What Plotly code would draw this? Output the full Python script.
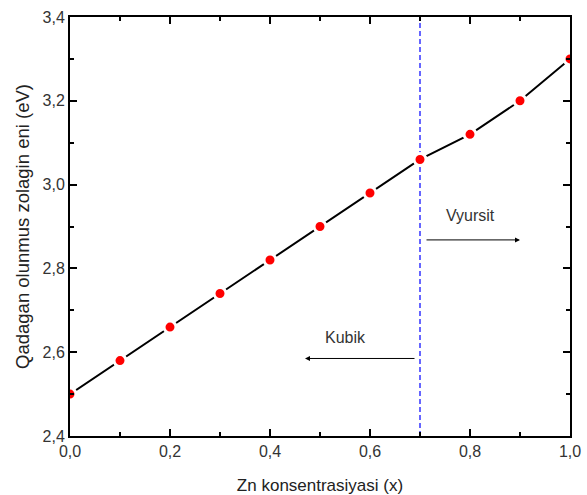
import plotly.graph_objects as go

x_vals = [0.0, 0.1, 0.2, 0.3, 0.4, 0.5, 0.6, 0.7, 0.8, 0.9, 1.0]
y_vals = [2.50, 2.58, 2.66, 2.74, 2.82, 2.90, 2.98, 3.06, 3.12, 3.20, 3.30]
x_tick_vals = [0.0, 0.2, 0.4, 0.6, 0.8, 1.0]
y_tick_vals = [2.4, 2.6, 2.8, 3.0, 3.2, 3.4]
boundary_x = 0.7

fig = go.Figure()
fig.add_shape(type="line", x0=boundary_x, x1=boundary_x, y0=2.4, y1=3.4,
              xref="x", yref="y", layer="below",
              line=dict(color="blue", width=1.2, dash="5px,3px"))

fig.add_trace(go.Scatter(
    x=x_vals, y=y_vals, mode="lines+markers",
    line=dict(color="black", width=2),
    marker=dict(color="red", size=12, line=dict(color="white", width=3)),
    showlegend=False,
))

font_ann = dict(family="Liberation Sans, Arial", size=16, color="#333333")
fig.add_annotation(x=0.90, y=2.868, ax=0.71, ay=2.868, xref="x", yref="y",
                   axref="x", ayref="y", showarrow=True, arrowhead=2,
                   arrowsize=1, arrowwidth=1, arrowcolor="black", text="")
fig.add_annotation(x=0.47, y=2.585, ax=0.692, ay=2.585, xref="x", yref="y",
                   axref="x", ayref="y", showarrow=True, arrowhead=2,
                   arrowsize=1, arrowwidth=1, arrowcolor="black", text="")
fig.add_annotation(x=0.80, y=2.927, text="Vyursit", showarrow=False, font=font_ann)
fig.add_annotation(x=0.55, y=2.636, text="Kubik", showarrow=False, font=font_ann)

axis_common = dict(
    showline=True, linecolor="black", linewidth=2, mirror="allticks",
    ticks="inside", ticklen=7, tickwidth=2, tickcolor="black",
    showgrid=False, zeroline=False, automargin=False,
    tickfont=dict(family="Liberation Sans, Arial", size=16, color="#333333"),
    tickformat=".1f",
    minor=dict(ticks="inside", ticklen=4, tickwidth=2, tickcolor="black", showgrid=False),
)

fig.update_xaxes(range=[0, 1], tickvals=x_tick_vals, minor_dtick=0.1,
                 title=dict(text="Zn konsentrasiyasi (x)", standoff=22,
                            font=dict(family="Liberation Sans, Arial", size=17, color="#222222")),
                 **axis_common)
fig.update_yaxes(range=[2.4, 3.4], tickvals=y_tick_vals, minor_dtick=0.1,
                 title=dict(text="Qadagan olunmus zolagin eni (eV)", standoff=8,
                            font=dict(family="Liberation Sans, Arial", size=18.5, color="#222222")),
                 **axis_common)

fig.update_layout(
    width=587, height=495, separators=",.",
    margin=dict(l=69.5, r=17, t=17, b=58.5),
    plot_bgcolor="white", paper_bgcolor="white",
)
fig.write_html("out.html", config={"displayModeBar": False},
               post_script="document.body.style.margin='0';document.body.style.overflow='hidden';")
